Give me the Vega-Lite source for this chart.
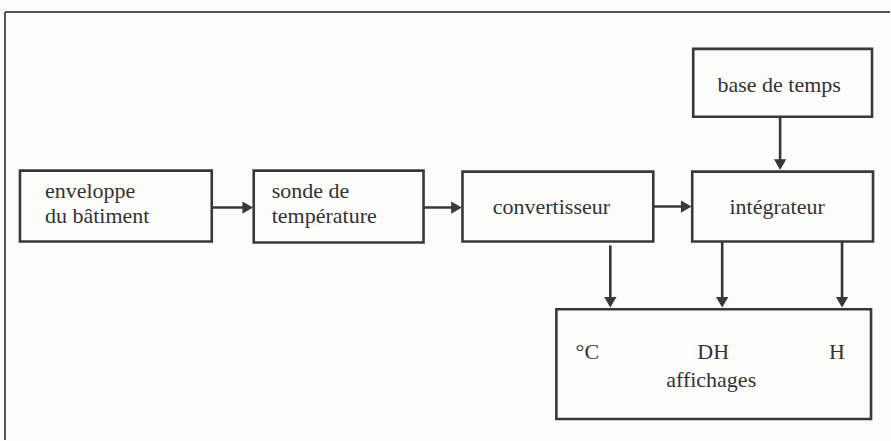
{
  "$schema": "https://vega.github.io/schema/vega-lite/v6.json",
  "width": 891,
  "height": 441,
  "autosize": {"type": "fit", "contains": "padding"},
  "padding": 0,
  "background": "#fcfcfb",
  "config": {"view": {"stroke": null}},
  "datasets": {
    "frame": [
      {"x": 5, "y": 12, "x2": 891, "y2": 12},
      {"x": 5, "y": 12, "x2": 5, "y2": 441}
    ],
    "boxes": [
      {"name": "enveloppe", "x": 20, "x2": 212, "y": 171, "y2": 242},
      {"name": "sonde", "x": 254, "x2": 424, "y": 171, "y2": 243},
      {"name": "convertisseur", "x": 463, "x2": 654, "y": 172, "y2": 242},
      {"name": "integrateur", "x": 693, "x2": 874, "y": 172, "y2": 242},
      {"name": "base", "x": 694, "x2": 873, "y": 49, "y2": 117},
      {"name": "affichages", "x": 557, "x2": 872, "y": 310, "y2": 420}
    ],
    "links": [
      {"x": 212, "y": 208, "x2": 248, "y2": 208},
      {"x": 424, "y": 208, "x2": 457, "y2": 208},
      {"x": 654, "y": 207, "x2": 687, "y2": 207},
      {"x": 781, "y": 117, "x2": 781, "y2": 165},
      {"x": 611, "y": 246, "x2": 611, "y2": 303},
      {"x": 723, "y": 242, "x2": 723, "y2": 303},
      {"x": 843, "y": 242, "x2": 843, "y2": 303}
    ],
    "heads": [
      {"x": 248, "y": 208, "dir": "right"},
      {"x": 457, "y": 208, "dir": "right"},
      {"x": 687, "y": 207, "dir": "right"},
      {"x": 781, "y": 165, "dir": "down"},
      {"x": 611, "y": 303, "dir": "down"},
      {"x": 723, "y": 303, "dir": "down"},
      {"x": 843, "y": 303, "dir": "down"}
    ],
    "leftLabels": [
      {"x": 45, "y": 198, "text": "enveloppe"},
      {"x": 45, "y": 224, "text": "du bâtiment"},
      {"x": 272, "y": 198, "text": "sonde de"},
      {"x": 272, "y": 224, "text": "température"}
    ],
    "centerLabels": [
      {"x": 552, "y": 214, "text": "convertisseur"},
      {"x": 778, "y": 214, "text": "intégrateur"},
      {"x": 780, "y": 92, "text": "base de temps"},
      {"x": 588, "y": 360, "text": "°C"},
      {"x": 714, "y": 360, "text": "DH"},
      {"x": 838, "y": 360, "text": "H"},
      {"x": 712, "y": 388, "text": "affichages"}
    ]
  },
  "layer": [
    {
      "data": {"name": "frame"},
      "mark": {"type": "rule", "color": "#555555", "strokeWidth": 2},
      "encoding": {
        "x": {"field": "x", "type": "quantitative", "scale": {"domain": [0, 891], "nice": false, "zero": false}, "axis": null},
        "y": {"field": "y", "type": "quantitative", "scale": {"domain": [0, 441], "nice": false, "zero": false, "reverse": true}, "axis": null},
        "x2": {"field": "x2"},
        "y2": {"field": "y2"}
      }
    },
    {
      "data": {"name": "boxes"},
      "mark": {"type": "rect", "fill": "transparent", "stroke": "#383838", "strokeWidth": 2.6},
      "encoding": {
        "x": {"field": "x", "type": "quantitative", "axis": null},
        "x2": {"field": "x2"},
        "y": {"field": "y", "type": "quantitative", "axis": null},
        "y2": {"field": "y2"}
      }
    },
    {
      "data": {"name": "links"},
      "mark": {"type": "rule", "color": "#383838", "strokeWidth": 2.6},
      "encoding": {
        "x": {"field": "x", "type": "quantitative", "axis": null},
        "x2": {"field": "x2"},
        "y": {"field": "y", "type": "quantitative", "axis": null},
        "y2": {"field": "y2"}
      }
    },
    {
      "data": {"name": "heads"},
      "mark": {"type": "point", "filled": true, "opacity": 1, "size": 150, "color": "#383838"},
      "encoding": {
        "x": {"field": "x", "type": "quantitative", "axis": null},
        "y": {"field": "y", "type": "quantitative", "axis": null},
        "shape": {"field": "dir", "type": "nominal", "scale": {"domain": ["right", "down"], "range": ["triangle-right", "triangle-down"]}, "legend": null}
      }
    },
    {
      "data": {"name": "leftLabels"},
      "mark": {"type": "text", "align": "left", "baseline": "alphabetic", "font": "Liberation Serif", "fontSize": 22, "color": "#333333"},
      "encoding": {
        "x": {"field": "x", "type": "quantitative", "axis": null},
        "y": {"field": "y", "type": "quantitative", "axis": null},
        "text": {"field": "text"}
      }
    },
    {
      "data": {"name": "centerLabels"},
      "mark": {"type": "text", "align": "center", "baseline": "alphabetic", "font": "Liberation Serif", "fontSize": 22, "color": "#333333"},
      "encoding": {
        "x": {"field": "x", "type": "quantitative", "axis": null},
        "y": {"field": "y", "type": "quantitative", "axis": null},
        "text": {"field": "text"}
      }
    }
  ]
}
